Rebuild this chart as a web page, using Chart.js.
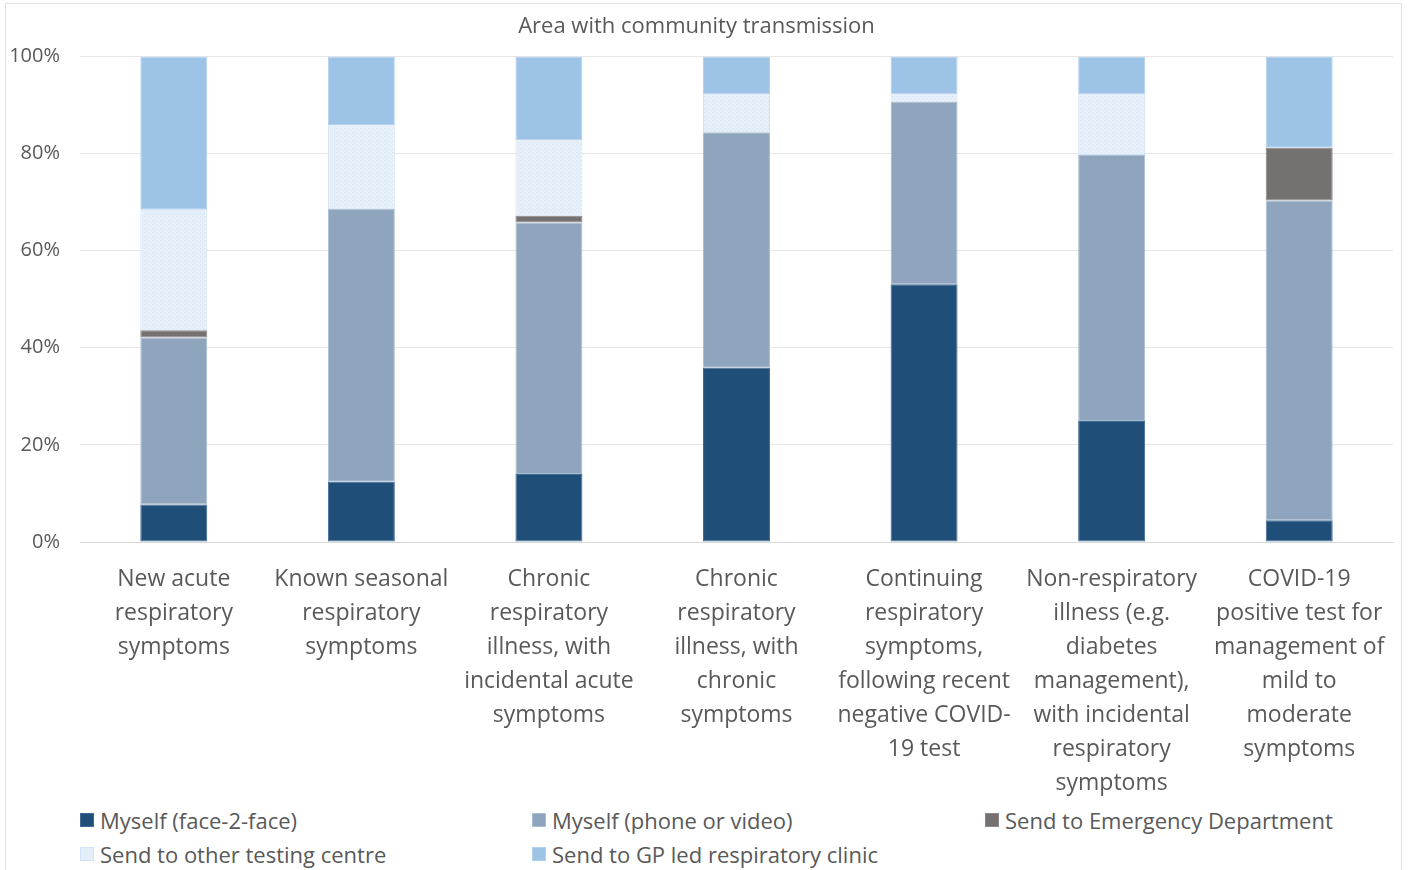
<!DOCTYPE html>
<html>
<head>
<meta charset="utf-8">
<script src="https://cdn.jsdelivr.net/npm/chart.js@4/dist/chart.umd.min.js"></script>
<style>
  html, body { margin: 0; padding: 0; background: #fff; }
  #wrap { position: relative; width: 1410px; height: 870px; overflow: hidden; }
  #frame { position: absolute; left: 5px; top: 3px; width: 1395px; height: 880px; border: 1px solid #e3e3e3; }
  #chartBox { position: absolute; left: 0; top: 0; width: 1410px; height: 800px; }
  #legend { position: absolute; left: 0; top: 805px; width: 1410px; font-family: "Open Sans", sans-serif; font-size: 22px; color: #595959; }
  .item { position: absolute; display: flex; align-items: center; white-space: nowrap; }
  .swatch { width: 14px; height: 14px; margin-right: 6px; box-sizing: border-box; }
</style>
</head>
<body>
<div id="wrap">
  <div id="frame"></div>
  <div id="chartBox"><canvas id="chart" width="1410" height="800"></canvas></div>
  <div id="legend"></div>
</div>
<script>
// ─── Data ────────────────────────────────────────────────────────────────
const TITLE = "Area with community transmission";

const CATEGORIES = [
  ["New acute", "respiratory", "symptoms"],
  ["Known seasonal", "respiratory", "symptoms"],
  ["Chronic", "respiratory", "illness, with", "incidental acute", "symptoms"],
  ["Chronic", "respiratory", "illness, with", "chronic", "symptoms"],
  ["Continuing", "respiratory", "symptoms,", "following recent", "negative COVID-", "19 test"],
  ["Non-respiratory", "illness (e.g.", "diabetes", "management),", "with incidental", "respiratory", "symptoms"],
  ["COVID-19", "positive test for", "management of", "mild to", "moderate", "symptoms"]
];

const SERIES_NAMES = [
  "Myself (face-2-face)",
  "Myself (phone or video)",
  "Send to Emergency Department",
  "Send to other testing centre",
  "Send to GP led respiratory clinic"
];

const FACE_2_FACE   = [7.7, 12.4, 14.0, 35.9, 53.1, 24.9, 4.5];
const PHONE_VIDEO   = [34.4, 56.3, 51.8, 48.5, 37.6, 54.8, 65.8];
const EMERGENCY     = [1.5, 0, 1.4, 0, 0, 0, 10.9];
const OTHER_TESTING = [25.0, 17.1, 15.5, 7.8, 1.5, 12.5, 0];
const GP_CLINIC     = [31.4, 14.2, 17.3, 7.8, 7.8, 7.8, 18.8];

const Y_TICKS = [0, 20, 40, 60, 80, 100];

// ─── Styles ──────────────────────────────────────────────────────────────
const FONT = "'Open Sans', sans-serif";
const TEXT = "#595959";

// light dotted fill used by Excel for the "other testing centre" series
function dottedPattern() {
  const c = document.createElement("canvas");
  c.width = 4; c.height = 4;
  const g = c.getContext("2d");
  g.fillStyle = "#e7f0f9";
  g.fillRect(0, 0, 4, 4);
  g.fillStyle = "#d3e3f3";
  g.fillRect(0, 0, 1, 1);
  g.fillRect(2, 2, 1, 1);
  return g.createPattern(c, "repeat");
}

const FILLS   = ["#1f4e79", "#8ea5bd", "#767171", dottedPattern(), "#9dc3e6"];
const BORDERS = ["#3f6a93", "#a9bdd2", "#8a8686", "#d4e4f4", "#b3d1ec"];
const SWATCH  = ["#1f4e79", "#8ea5bd", "#767171", "#e4eef8", "#9dc3e6"];
const VALUES  = [FACE_2_FACE, PHONE_VIDEO, EMERGENCY, OTHER_TESTING, GP_CLINIC];

// ─── Chart ───────────────────────────────────────────────────────────────
const chart = new Chart(document.getElementById("chart"), {
  type: "bar",
  data: {
    labels: CATEGORIES,
    datasets: SERIES_NAMES.map((name, i) => ({
      label: name,
      data: VALUES[i],
      backgroundColor: FILLS[i],
      borderColor: BORDERS[i],
      borderWidth: 1,
      borderSkipped: false,
      categoryPercentage: 1,
      barPercentage: 0.357,
    })),
  },
  options: {
    responsive: false,
    maintainAspectRatio: false,
    animation: false,
    devicePixelRatio: 1,
    layout: { padding: { left: 0, right: 17, top: 0, bottom: 0 } },
    plugins: {
      legend: { display: false },
      tooltip: { enabled: false },
      title: {
        display: true,
        text: TITLE,
        color: TEXT,
        font: { family: FONT, size: 22, weight: "normal" },
        padding: { top: 14, bottom: 16 },
      },
    },
    scales: {
      x: {
        stacked: true,
        grid: { display: false, drawTicks: false },
        border: { display: true, color: "#d9d9d9" },
        ticks: {
          color: TEXT,
          maxRotation: 0,
          autoSkip: false,
          padding: 20,
          font: { family: FONT, size: 23, lineHeight: 34 / 23 },
        },
        afterFit: (s) => { s.height = 258; },
      },
      y: {
        stacked: true,
        min: 0,
        max: 100,
        afterBuildTicks: (s) => { s.ticks = Y_TICKS.map((v) => ({ value: v })); },
        grid: { color: "#e6e6e6", drawTicks: false },
        border: { display: false },
        ticks: {
          color: TEXT,
          padding: 20,
          font: { family: FONT, size: 20 },
          callback: (v) => v + "%",
        },
        afterFit: (s) => { s.width = 80; },
      },
    },
  },
});

// ─── Legend (HTML, laid out in Excel's three columns) ────────────────────
const LEGEND_POS = [[80, 0], [532, 0], [985, 0], [80, 34], [532, 34]];
const legend = document.getElementById("legend");
chart.data.datasets.forEach((ds, i) => {
  const el = document.createElement("div");
  el.className = "item";
  el.style.left = LEGEND_POS[i][0] + "px";
  el.style.top = LEGEND_POS[i][1] + "px";
  const sw = document.createElement("span");
  sw.className = "swatch";
  sw.style.background = SWATCH[i];
  sw.style.border = "1px solid " + BORDERS[i];
  const tx = document.createElement("span");
  tx.textContent = ds.label;
  el.appendChild(sw);
  el.appendChild(tx);
  legend.appendChild(el);
});
</script>
</body>
</html>
